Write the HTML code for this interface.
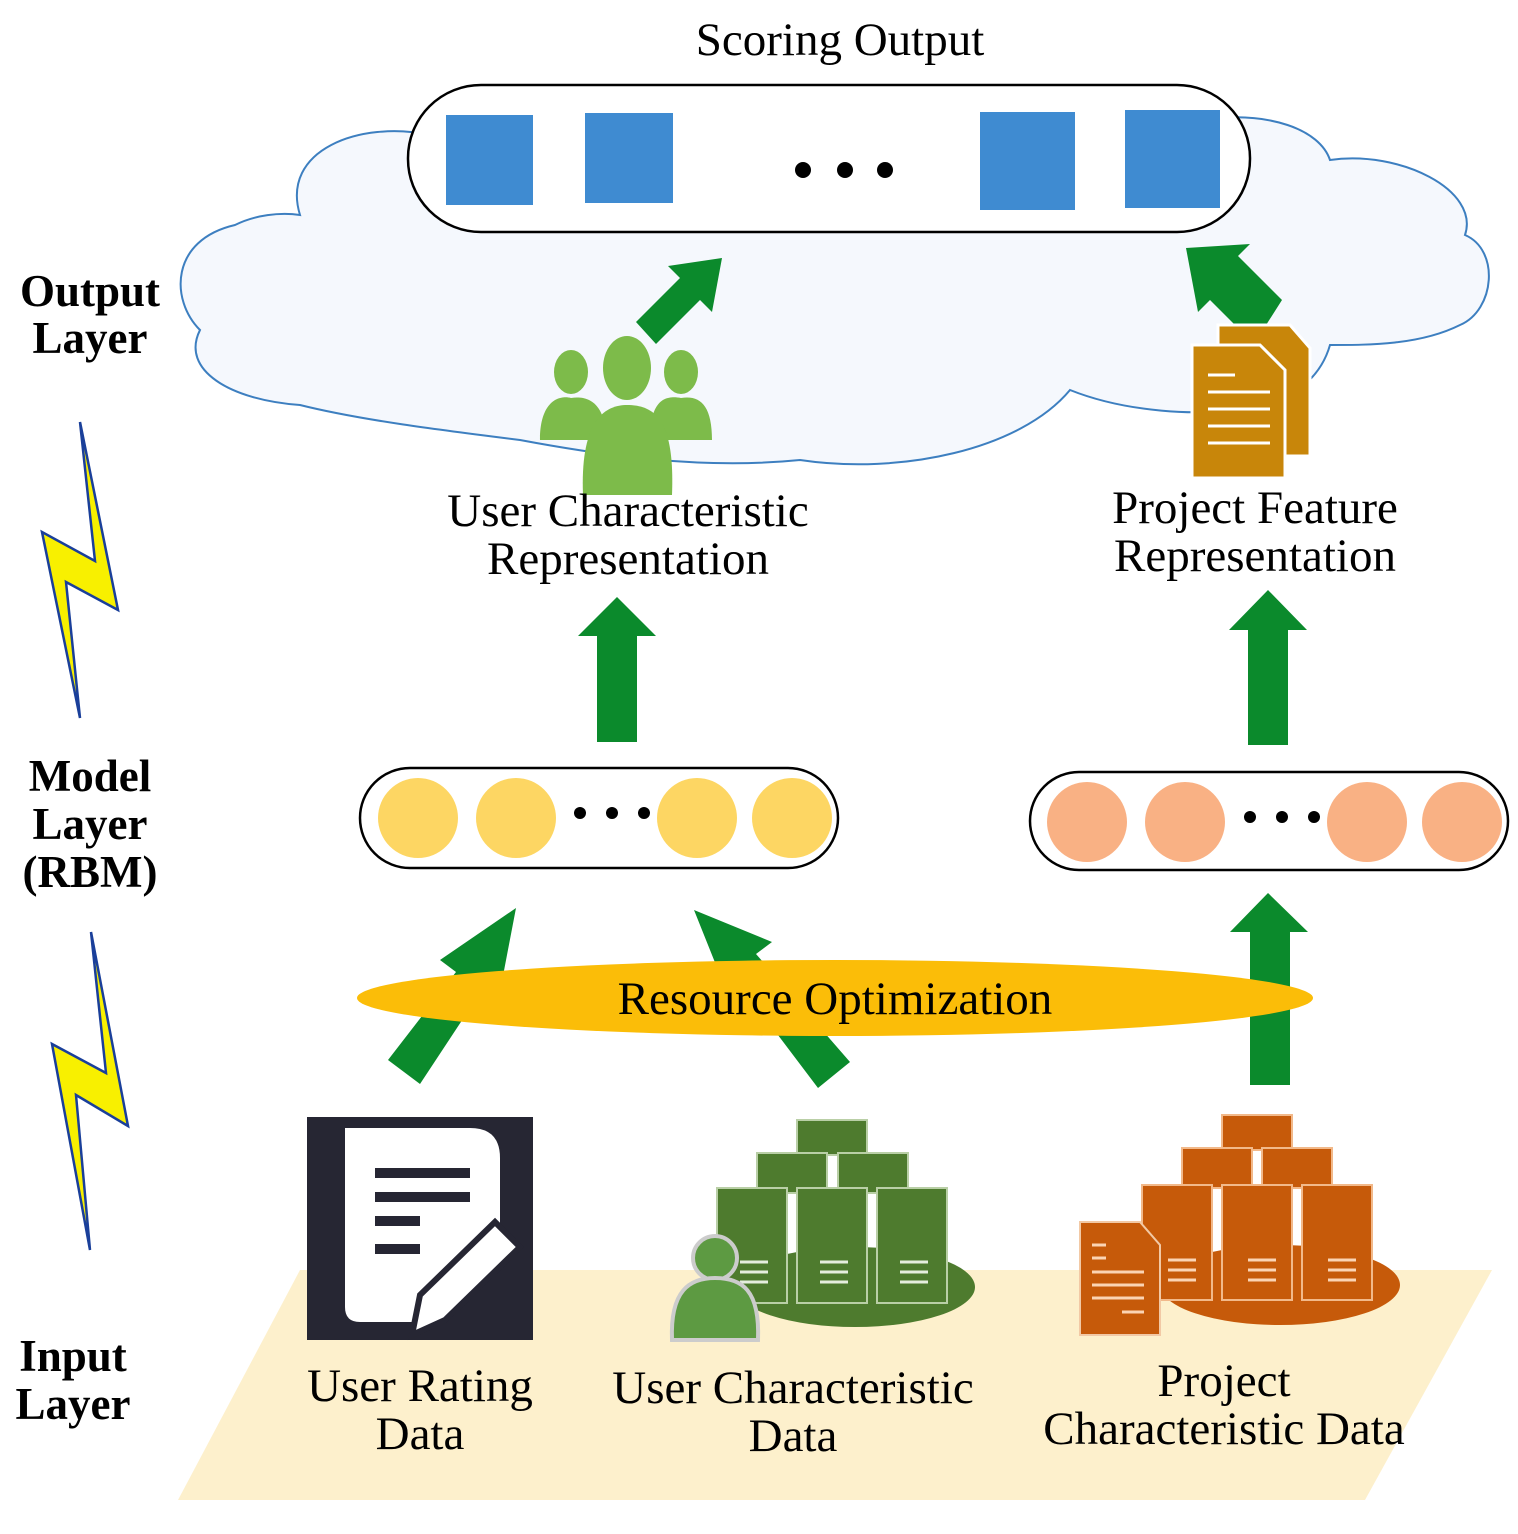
<!DOCTYPE html>
<html><head><style>body{margin:0;background:#fff}</style></head><body>
<svg width="1518" height="1529" viewBox="0 0 1518 1529" xmlns="http://www.w3.org/2000/svg" font-family="Liberation Serif, serif">
<rect width="1518" height="1529" fill="#fff"/>
<text x="840" y="55" font-size="47" text-anchor="middle">Scoring Output</text>
<!-- cloud -->
<path d="M300,215 C280,150 360,120 430,135 C470,100 560,100 610,120 C660,85 760,85 810,110 C860,80 960,80 1000,110 C1060,85 1160,90 1200,120 C1270,110 1320,130 1330,160 C1400,150 1480,190 1465,235 C1500,250 1495,310 1460,325 C1420,345 1370,345 1330,345 C1320,380 1290,400 1260,405 C1200,420 1120,410 1070,390 C1020,450 900,475 800,460 C700,470 600,455 520,440 C440,430 360,420 300,405 C230,400 180,370 200,330 C170,300 170,240 235,225 C255,215 280,212 300,215 Z" fill="#f5f8fd" stroke="#3d7fc0" stroke-width="2"/>
<rect x="408" y="85" width="842" height="147" rx="73" fill="#fff" stroke="#000" stroke-width="2.5"/>
<g fill="#3f8bd1"><rect x="446" y="115" width="87" height="90"/><rect x="585" y="113" width="88" height="90"/><rect x="980" y="112" width="95" height="98"/><rect x="1125" y="110" width="95" height="98"/></g>
<g fill="#000"><circle cx="803" cy="170" r="8"/><circle cx="845" cy="170" r="8"/><circle cx="885" cy="170" r="8"/></g>
<g fill="#0b8a2c">
<polygon points="636,322 680,278 668,266 722,258 712,312 700,300 656,344"/>
<polygon points="1282,300 1238,256 1250,244 1186,248 1198,312 1210,300 1254,344"/>
<polygon points="597,742 637,742 637,636 656,636 617,597 578,636 597,636"/>
<polygon points="1248,745 1288,745 1288,630 1307,630 1268,590 1229,630 1248,630"/>
<polygon points="388,1060 420,1084 482,990 498,1002 516,908 440,960 456,972"/>
<polygon points="850,1062 818,1088 750,998 734,1010 694,910 772,942 756,954"/>
<polygon points="1250,1085 1290,1085 1290,932 1308,932 1268,893 1230,932 1250,932"/>
</g>
<!-- people icon -->
<g fill="#7dbb4a">
<ellipse cx="571" cy="372" rx="17" ry="22"/><path d="M540,440 C540,400 560,395 571,398 C590,395 606,405 606,440 Z"/>
<ellipse cx="681" cy="372" rx="17" ry="22"/><path d="M650,440 C650,400 665,395 681,398 C700,395 712,405 712,440 Z"/>
<ellipse cx="627" cy="368" rx="24" ry="32"/><path d="M583,495 C580,420 605,405 627,405 C655,405 675,420 672,495 Z"/>
</g>
<!-- docs icon -->
<g><path d="M1218,325 L1290,325 L1310,348 L1310,456 L1218,456 Z" fill="#c8860a" stroke="#fff" stroke-width="3"/>
<path d="M1192,345 L1260,345 L1285,370 L1285,478 L1192,478 Z" fill="#c8860a" stroke="#fff" stroke-width="3"/>
<g stroke="#fff" stroke-width="3"><line x1="1208" y1="375" x2="1235" y2="375"/><line x1="1208" y1="392" x2="1270" y2="392"/><line x1="1208" y1="409" x2="1270" y2="409"/><line x1="1208" y1="426" x2="1270" y2="426"/><line x1="1208" y1="443" x2="1270" y2="443"/></g></g>
<g font-size="47" text-anchor="middle">
<text x="628" y="526">User Characteristic</text><text x="628" y="574">Representation</text>
<text x="1255" y="523">Project Feature</text><text x="1255" y="571">Representation</text></g>
<!-- model pills -->
<rect x="360" y="768" width="478" height="100" rx="50" fill="#fff" stroke="#000" stroke-width="2.5"/>
<g fill="#fdd663"><circle cx="418" cy="818" r="40"/><circle cx="516" cy="818" r="40"/><circle cx="697" cy="818" r="40"/><circle cx="792" cy="818" r="40"/></g>
<g fill="#000"><circle cx="580" cy="813" r="6"/><circle cx="612" cy="813" r="6"/><circle cx="644" cy="813" r="6"/></g>
<rect x="1030" y="772" width="478" height="98" rx="49" fill="#fff" stroke="#000" stroke-width="2.5"/>
<g fill="#f9b184"><circle cx="1087" cy="822" r="40"/><circle cx="1185" cy="822" r="40"/><circle cx="1367" cy="822" r="40"/><circle cx="1462" cy="822" r="40"/></g>
<g fill="#000"><circle cx="1250" cy="817" r="6"/><circle cx="1282" cy="817" r="6"/><circle cx="1314" cy="817" r="6"/></g>
<ellipse cx="835" cy="998" rx="478" ry="38" fill="#fbbd08"/>
<text x="835" y="1014" font-size="47" text-anchor="middle">Resource Optimization</text>
<!-- floor -->
<polygon points="300,1270 1492,1270 1365,1500 178,1500" fill="#fdf0cc"/>
<!-- rating icon -->
<rect x="307" y="1117" width="226" height="223" fill="#262633"/>
<path d="M345,1128 L470,1128 Q500,1128 500,1158 L500,1250 L430,1322 L360,1322 Q345,1322 345,1307 Z" fill="#fff"/>
<g fill="#262633"><rect x="375" y="1168" width="95" height="10"/><rect x="375" y="1192" width="95" height="10"/><rect x="375" y="1216" width="45" height="10"/><rect x="375" y="1244" width="45" height="10"/></g>
<path d="M412,1335 L420,1295 L495,1222 L520,1247 L445,1320 Z" fill="#fff" stroke="#262633" stroke-width="6"/>
<!-- green servers -->
<ellipse cx="855" cy="1287" rx="120" ry="40" fill="#4e7b2e"/>
<g fill="#4e7b2e" stroke="#b9cfa6" stroke-width="2">
<rect x="797" y="1120" width="70" height="35"/><rect x="757" y="1153" width="70" height="40"/><rect x="838" y="1153" width="70" height="40"/>
<rect x="717" y="1188" width="70" height="115"/><rect x="797" y="1188" width="70" height="115"/><rect x="877" y="1188" width="70" height="115"/></g>
<g stroke="#e5eedd" stroke-width="3"><path d="M740,1262h28M740,1272h28M740,1282h28M820,1262h28M820,1272h28M820,1282h28M900,1262h28M900,1272h28M900,1282h28"/></g>
<circle cx="715" cy="1258" r="22" fill="#5d9a42" stroke="#ccc" stroke-width="4"/>
<path d="M672,1340 C670,1290 690,1278 715,1278 C742,1278 760,1290 758,1340 Z" fill="#5d9a42" stroke="#ccc" stroke-width="4"/>
<!-- orange servers -->
<ellipse cx="1280" cy="1285" rx="120" ry="40" fill="#c65a0a"/>
<g fill="#c65a0a" stroke="#f2b98a" stroke-width="2">
<rect x="1222" y="1115" width="70" height="35"/><rect x="1182" y="1148" width="70" height="40"/><rect x="1262" y="1148" width="70" height="40"/>
<rect x="1142" y="1185" width="70" height="115"/><rect x="1222" y="1185" width="70" height="115"/><rect x="1302" y="1185" width="70" height="115"/></g>
<g stroke="#fbd4b4" stroke-width="3"><path d="M1168,1260h28M1168,1270h28M1168,1280h28M1248,1260h28M1248,1270h28M1248,1280h28M1328,1260h28M1328,1270h28M1328,1280h28"/></g>
<path d="M1080,1222 L1140,1222 L1160,1245 L1160,1335 L1080,1335 Z" fill="#c65a0a" stroke="#f2c9a5" stroke-width="2"/>
<g stroke="#fbd4b4" stroke-width="3"><path d="M1092,1245h14M1092,1258h14M1092,1272h52M1092,1285h52M1092,1298h52M1122,1312h22"/></g>
<g font-size="47" text-anchor="middle">
<text x="420" y="1401">User Rating</text><text x="420" y="1449">Data</text>
<text x="793" y="1403">User Characteristic</text><text x="793" y="1451">Data</text>
<text x="1224" y="1396">Project</text><text x="1224" y="1444">Characteristic Data</text></g>
<g font-size="45" font-weight="bold" text-anchor="middle">
<text x="90" y="306">Output</text><text x="90" y="353">Layer</text>
<text x="90" y="791">Model</text><text x="90" y="839">Layer</text><text x="90" y="887">(RBM)</text>
<text x="73" y="1371">Input</text><text x="73" y="1419">Layer</text></g>
<g fill="#f8f000" stroke="#1a3f9a" stroke-width="2.5" stroke-linejoin="miter">
<polygon points="80,422 95,561 42,532 80,718 66,582 118,610"/>
<polygon points="91,932 106,1073 52,1044 90,1250 76,1095 128,1126"/>
</g>
</svg>
</body></html>
